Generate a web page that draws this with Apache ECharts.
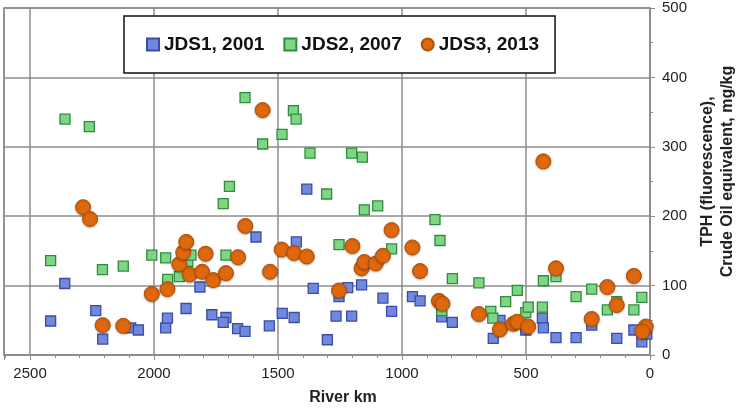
<!DOCTYPE html>
<html>
<head>
<meta charset="utf-8">
<script src="https://cdn.jsdelivr.net/npm/echarts@6/dist/echarts.min.js"></script>
<style>html,body{margin:0;padding:0;background:#fff}#c{width:738px;height:409px}</style>
</head>
<body>
<div id="c"></div>
<script>
var seriesNames = ['JDS1, 2001', 'JDS2, 2007', 'JDS3, 2013'];
var xTicks = [0, 500, 1000, 1500, 2000, 2500];
var yTicks = [0, 100, 200, 300, 400, 500];
// [river km, TPH mg/kg]
var jds1 = [[2417,49],[2360,103],[2235,64],[2207,23],[2094,39],[2063,36],[1953,39],[1946,53],[1871,67],[1815,98],[1767,58],[1710,54],[1721,47],[1663,38],[1633,34],[1589,170],[1535,42],[1483,60],[1435,54],[1426,163],[1384,239],[1358,96],[1301,22],[1266,56],[1254,84],[1219,97],[1203,56],[1163,101],[1077,82],[1042,63],[958,84],[927,78],[840,55],[797,47],[632,24],[605,50],[501,36],[434,53],[430,39],[379,25],[298,25],[235,43],[134,24],[65,36],[33,19],[13,30]];
var jds2 = [[2417,136],[2359,340],[2261,329],[2208,123],[2124,128],[2009,144],[1953,140],[1945,109],[1898,113],[1864,135],[1851,144],[1721,218],[1710,144],[1696,243],[1633,371],[1562,304],[1484,318],[1438,352],[1427,340],[1371,291],[1304,232],[1254,159],[1203,291],[1160,285],[1152,209],[1098,215],[1042,153],[867,195],[847,165],[840,64],[797,110],[690,104],[642,63],[634,53],[582,77],[535,93],[501,61],[491,69],[434,69],[430,107],[379,113],[298,84],[235,95],[172,65],[134,77],[65,65],[33,83]];
var jds3 = [[2286,213],[2258,196],[2207,43],[2124,42],[2009,88],[1946,95],[1898,131],[1882,148],[1870,163],[1856,116],[1806,120],[1792,146],[1761,108],[1710,118],[1661,141],[1632,186],[1562,353],[1532,120],[1485,152],[1435,147],[1384,142],[1254,93],[1200,157],[1163,125],[1152,134],[1106,132],[1077,143],[1042,180],[958,155],[927,121],[851,78],[837,74],[690,59],[605,37],[551,45],[535,48],[491,41],[430,279],[379,125],[235,52],[172,98],[134,72],[65,114],[17,41],[31,34]];

var chart = echarts.init(document.getElementById('c'), null, {renderer: 'canvas'});
var gridColor = '#8c8c8c';
var font = 'Liberation Sans, Arial, sans-serif';
chart.setOption({
  animation: false,
  backgroundColor: '#fff',
  grid: {left: 4, right: 88, top: 8, bottom: 54, containLabel: false, outerBoundsMode: 'none',
         show: true, borderColor: gridColor, borderWidth: 1.5, backgroundColor: 'transparent'},
  legend: {
    data: seriesNames,
    left: 124, top: 16,
    padding: [19, 16, 19, 22],
    borderColor: '#111', borderWidth: 1.5, backgroundColor: '#fff',
    itemWidth: 12, itemHeight: 12, itemGap: 19,
    textStyle: {fontFamily: font, fontSize: 19, fontWeight: 'bold', color: '#111'}
  },
  xAxis: {
    type: 'value', inverse: true, min: 0, max: 2605, interval: 500,
    name: 'River km', nameLocation: 'middle', nameGap: 35,
    nameTextStyle: {fontFamily: font, fontSize: 16, fontWeight: 'bold', color: '#222', padding: [0, 0, 0, 32]},
    axisLine: {show: true, lineStyle: {color: gridColor, width: 1.5}},
    axisTick: {show: true, inside: false, length: 5, lineStyle: {color: gridColor}},
    minorTick: {show: true, splitNumber: 5, length: 3, lineStyle: {color: gridColor}},
    splitLine: {show: true, lineStyle: {color: gridColor, width: 1.5}},
    axisLabel: {showMaxLabel: true, showMinLabel: true, hideOverlap: false, fontFamily: font, fontSize: 15, color: '#222', margin: 11,
      formatter: function (v) { return xTicks.indexOf(v) >= 0 ? String(v) : ''; }}
  },
  yAxis: {
    type: 'value', position: 'right', min: 0, max: 500, interval: 100,
    name: 'TPH (fluorescence),\nCrude Oil equivalent, mg/kg', nameLocation: 'middle', nameRotate: 90, nameGap: 45,
    nameTextStyle: {fontFamily: font, fontSize: 16, fontWeight: 'bold', color: '#222', lineHeight: 20, align: 'center', padding: [0, 0, 0, 20]},
    axisLine: {show: true, lineStyle: {color: gridColor, width: 1.5}},
    axisTick: {show: true, inside: false, length: 5, lineStyle: {color: gridColor}},
    minorTick: {show: true, splitNumber: 2, length: 3, lineStyle: {color: gridColor}},
    splitLine: {show: true, lineStyle: {color: gridColor, width: 1.5}},
    axisLabel: {fontFamily: font, fontSize: 15, color: '#222', margin: 12,
      formatter: function (v) { return yTicks.indexOf(v) >= 0 ? String(v) : ''; }}
  },
  series: [
    {name: seriesNames[0], type: 'scatter', data: jds1, symbol: 'rect', symbolSize: 10,
     itemStyle: {color: '#7189dc', borderColor: '#3a4ca8', borderWidth: 1.3, opacity: 1}},
    {name: seriesNames[1], type: 'scatter', data: jds2, symbol: 'rect', symbolSize: 10,
     itemStyle: {color: '#7ed684', borderColor: '#2f8c3c', borderWidth: 1.3, opacity: 1}},
    {name: seriesNames[2], type: 'scatter', data: jds3, symbol: 'circle', symbolSize: 15,
     itemStyle: {color: '#e0680c', borderColor: '#b04f08', borderWidth: 1, opacity: 1, shadowColor: 'rgba(0,0,0,0.25)', shadowBlur: 2, shadowOffsetY: 1}}
  ]
});
</script>
</body>
</html>
